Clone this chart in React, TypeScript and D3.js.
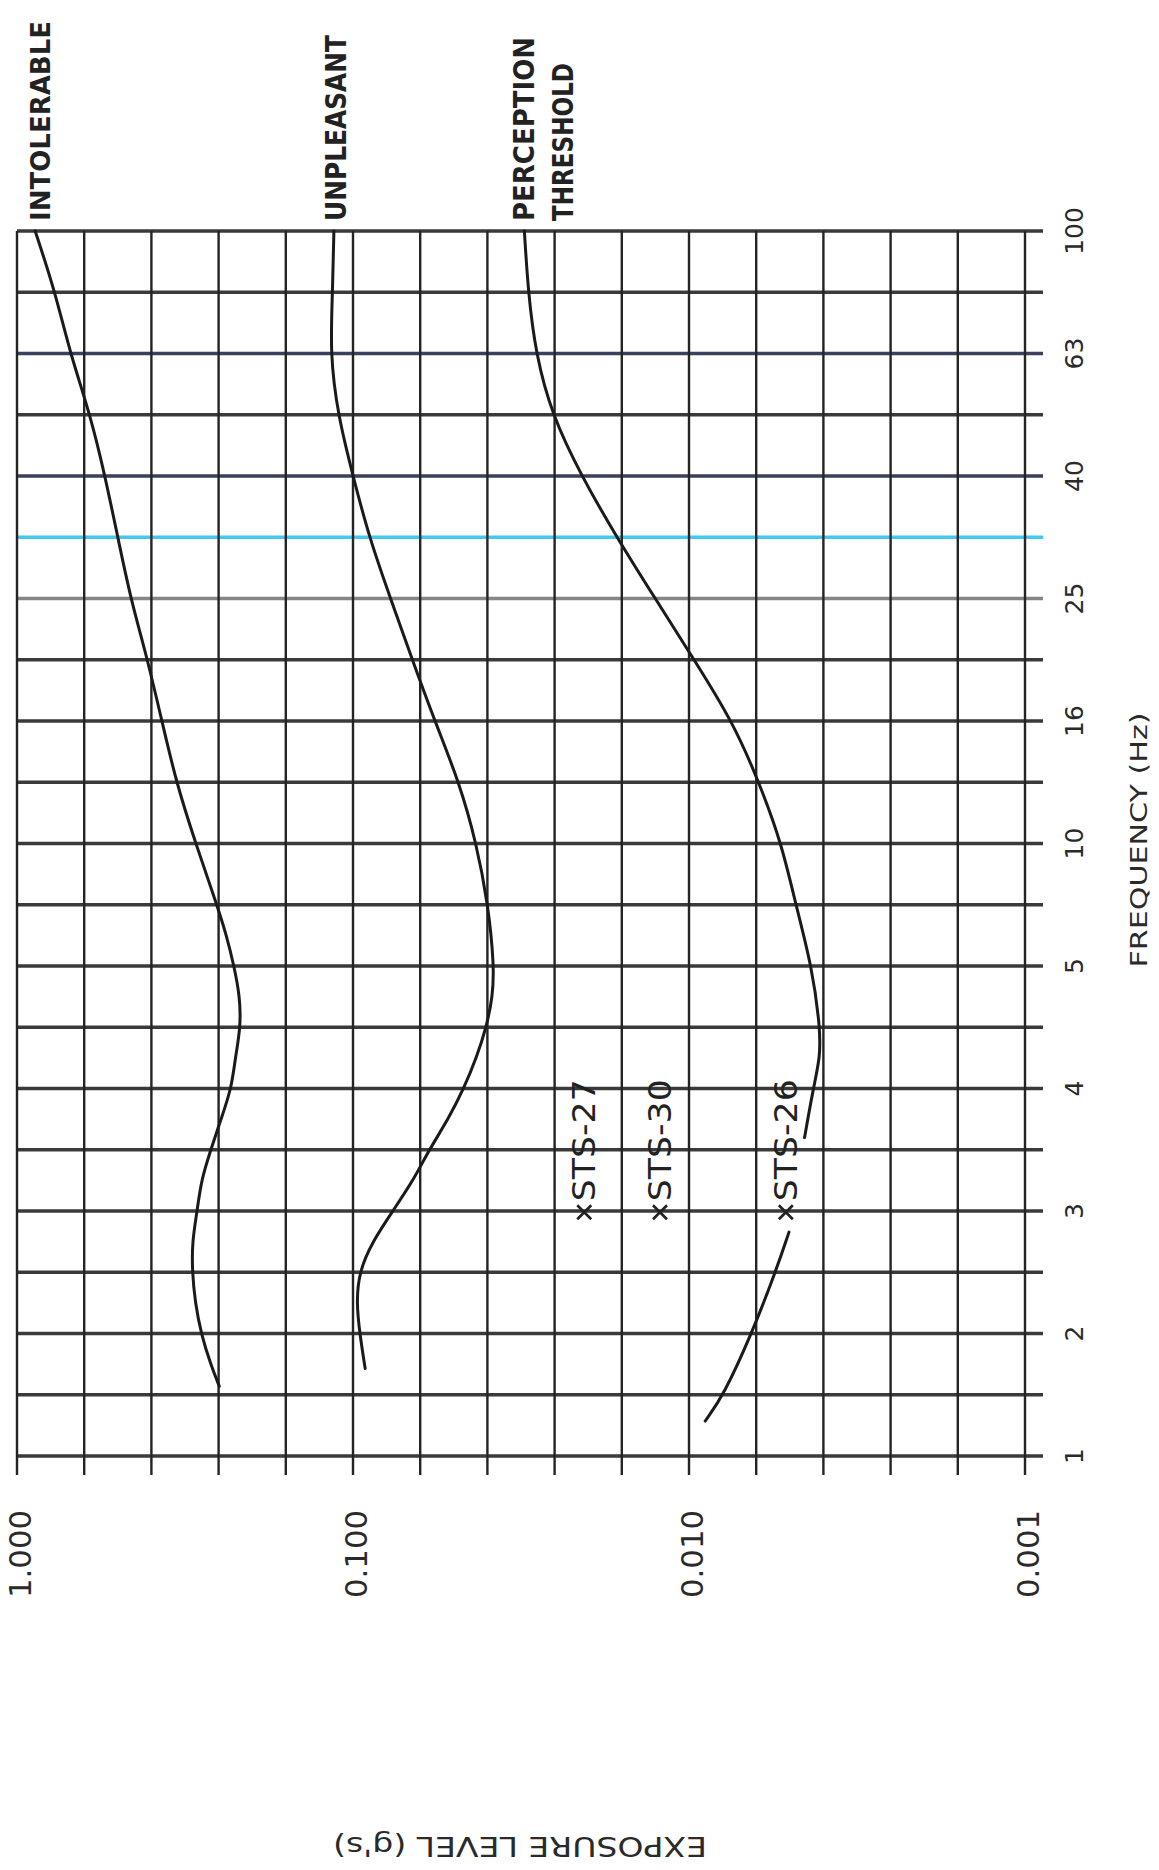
import * as d3 from "d3";

// values: frequency (Hz) vs exposure level (g's)
const intolerableHz = [100, 79.4, 63.1, 50.1, 39.8, 31.6, 25.1, 20, 15.8, 12.6, 10, 7.94, 7.08, 6.31, 5.62, 5.01, 4.47, 3.98, 3.55, 3.16, 2.82, 2.51, 2.24, 2.0, 1.78, 1.58, 1.41, 1.3];
const intolerableG = [0.883, 0.769, 0.695, 0.605, 0.547, 0.501, 0.459, 0.409, 0.37, 0.336, 0.294, 0.254, 0.238, 0.226, 0.217, 0.216, 0.224, 0.23, 0.247, 0.265, 0.283, 0.291, 0.301, 0.301, 0.295, 0.283, 0.265, 0.25];

const unpleasantHz = [100, 79.4, 63.1, 50.1, 39.8, 31.6, 25.1, 20, 15.8, 12.6, 10, 7.94, 6.31, 5.62, 5.01, 4.47, 3.98, 3.55, 3.16, 2.82, 2.51, 2.24, 2.0, 1.78, 1.58, 1.39];
const unpleasantG = [0.114, 0.115, 0.117, 0.111, 0.1, 0.0895, 0.0773, 0.0667, 0.057, 0.0483, 0.0429, 0.0396, 0.038, 0.0384, 0.0401, 0.0429, 0.0468, 0.052, 0.0594, 0.0661, 0.0762, 0.0875, 0.0959, 0.0977, 0.0954, 0.092];

// perception threshold is drawn in two pieces (gap around the STS-26 label)
const perceptionHz = [100, 79.4, 63.1, 50.1, 39.8, 31.6, 25.1, 20, 15.8, 12.6, 10, 7.94, 6.31, 5.01, 4.47, 3.98, 3.31];
const perceptionG = [0.0309, 0.0301, 0.0286, 0.0256, 0.0209, 0.0164, 0.0126, 0.00968, 0.00741, 0.00619, 0.0053, 0.00481, 0.00431, 0.00407, 0.00407, 0.00427, 0.00453];
const perceptionLowHz = [2.32, 2.0, 1.58, 1.26, 1.14];
const perceptionLowG = [0.00504, 0.00552, 0.00652, 0.00787, 0.00895];

const stsNames = ["STS-27", "STS-30", "STS-26"];
const stsG = [0.0205, 0.0122, 0.00515];
const stsHz = [2.5, 2.5, 2.5];

const freqTickLabels = ["1", "2", "3", "4", "5", "10", "16", "25", "40", "63", "100"];
const exposureTicks = [1, 0.1, 0.01, 0.001];
const exposureTickLabels = ["1.000", "0.100", "0.010", "0.001"];

// chart is drawn landscape and turned 90deg counter-clockwise
const W = 1225;
const H = 1008;
const FONT = "DejaVu Sans, Arial, sans-serif";

const tint: Record<number, string> = { 14: "#858585", 15: "#44c8ee", 16: "#3c3f58", 18: "#3d405a" };

export default function App() {
  const x = d3.scaleLog().domain([1, 100]).range([0, W]);
  const y = d3.scaleLog().domain([1, 0.001]).range([0, H]);

  const freqGrid = d3.range(21).map((i) => 10 ** (i / 10));
  const gGrid = d3.range(16).map((i) => 10 ** (-i / 5));

  const line = d3
    .line<[number, number]>()
    .x((d) => x(d[0]))
    .y((d) => y(d[1]))
    .curve(d3.curveBasis);
  const pts = (hz: number[], g: number[]) => hz.map((f, i) => [f, g[i]] as [number, number]);

  const curves = [
    pts(intolerableHz, intolerableG),
    pts(unpleasantHz, unpleasantG),
    pts(perceptionHz, perceptionG),
    pts(perceptionLowHz, perceptionLowG)
  ];

  const curveLabels = [
    { lines: ["INTOLERABLE"], g: intolerableG[0], len: [200], dy: 6, fs: 26 },
    { lines: ["UNPLEASANT"], g: unpleasantG[0], len: [186], dy: 3, fs: 28 },
    { lines: ["PERCEPTION", "THRESHOLD"], g: perceptionG[0], len: [184, 158], dy: 0, fs: 28 }
  ];

  return (
    <svg
      width={1159}
      height={1870}
      style={{ position: "absolute", left: 0, top: 0, background: "#fff" }}
    >
      <g transform="translate(17,1456) rotate(-90)">
        {/* frequency grid (horizontal on screen) */}
        {freqGrid.map((f, i) => (
          <line
            key={"f" + i}
            x1={x(f)}
            x2={x(f)}
            y1={0}
            y2={H + 18}
            stroke={tint[i] ?? "#3a3a3a"}
            strokeWidth={3.4}
          />
        ))}
        {/* exposure grid (vertical on screen) */}
        {gGrid.map((g, i) => (
          <line
            key={"g" + i}
            x1={-19}
            x2={W}
            y1={y(g)}
            y2={y(g)}
            stroke="#242424"
            strokeWidth={2.4}
          />
        ))}

        {curves.map((c, i) => (
          <path key={"c" + i} d={line(c) ?? ""} fill="none" stroke="#1a1a1a" strokeWidth={3} strokeLinecap="round" />
        ))}

        {curveLabels.map((lab, i) =>
          lab.lines.map((t, k) => (
            <text
              key={"l" + i + k}
              x={W + 10}
              y={y(lab.g) + lab.dy + k * 39}
              dominantBaseline="central"
              fontFamily={FONT}
              fontWeight="bold"
              fontSize={lab.fs}
              fill="#222"
              textLength={lab.len[k]}
              lengthAdjust="spacingAndGlyphs"
            >
              {t}
            </text>
          ))
        )}

        {/* STS flight markers */}
        {stsNames.map((name, i) => {
          const cx = x(stsHz[i]);
          const cy = y(stsG[i]);
          return (
            <g key={name}>
              <path
                d={`M${cx - 7},${cy - 7}L${cx + 7},${cy + 7}M${cx - 7},${cy + 7}L${cx + 7},${cy - 7}`}
                stroke="#222"
                strokeWidth={2.6}
              />
              <text
                x={cx + 11}
                y={cy}
                dominantBaseline="central"
                fontFamily={FONT}
                fontSize={32}
                fill="#222"
                textLength={122}
                lengthAdjust="spacingAndGlyphs"
              >
                {name}
              </text>
            </g>
          );
        })}

        {/* frequency tick labels */}
        {freqTickLabels.map((t, i) => (
          <text
            key={"ft" + i}
            x={x(freqGrid[i * 2])}
            y={H + 49}
            textAnchor="middle"
            dominantBaseline="central"
            fontFamily={FONT}
            fontSize={25}
            fill="#2a2a2a"
          >
            {t}
          </text>
        ))}
        <text
          x={616}
          y={H + 114}
          textAnchor="middle"
          dominantBaseline="central"
          fontFamily={FONT}
          fontSize={23}
          fill="#2a2a2a"
          textLength={255}
          lengthAdjust="spacingAndGlyphs"
        >
          FREQUENCY (Hz)
        </text>

        {/* exposure tick labels */}
        {exposureTicks.map((g, i) => (
          <text
            key={"et" + i}
            x={-54}
            y={y(g) + 3}
            textAnchor="end"
            dominantBaseline="central"
            fontFamily={FONT}
            fontSize={31}
            fill="#2a2a2a"
            textLength={88}
            lengthAdjust="spacingAndGlyphs"
          >
            {exposureTickLabels[i]}
          </text>
        ))}
        <text
          transform={`translate(-390,${503}) rotate(-90)`}
          textAnchor="middle"
          dominantBaseline="central"
          fontFamily={FONT}
          fontSize={27}
          fill="#2a2a2a"
          textLength={374}
          lengthAdjust="spacingAndGlyphs"
        >
          EXPOSURE LEVEL (g's)
        </text>
      </g>
    </svg>
  );
}
